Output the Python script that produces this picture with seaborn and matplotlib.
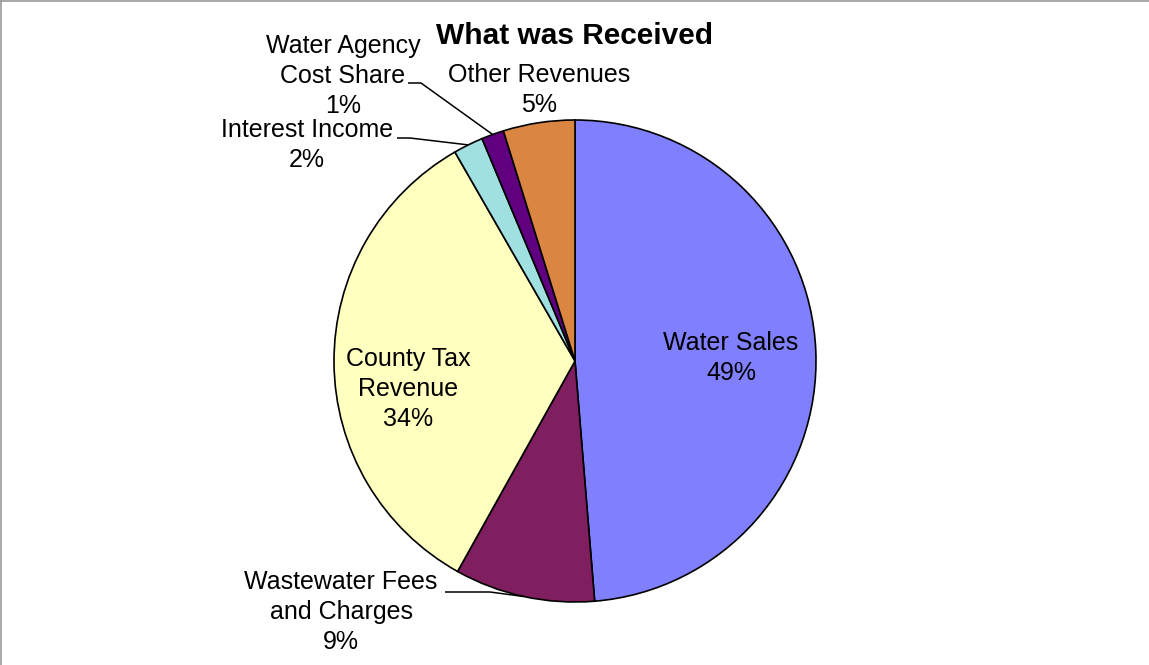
import numpy as np
import matplotlib.pyplot as plt
import seaborn as sns

sns.set_theme(style="white")
plt.rcParams['font.family'] = ['Liberation Sans', 'DejaVu Sans']
plt.rcParams['text.color'] = 'black'

# valores (fatias em sentido horario a partir do topo)
categorias = ["Water Sales", "Wastewater Fees\nand Charges", "County Tax\nRevenue",
              "Interest Income", "Water Agency\nCost Share", "Other Revenues"]
valores = [48.7, 9.4, 33.6, 2.0, 1.5, 4.8]
rotulos_pct = ["49%", "9%", "34%", "2%", "1%", "5%"]
cores = ["#8080FF", "#7F1F5F", "#FFFFC0", "#A0E0E0", "#600080", "#DA8642"]

W, H = 1149, 665
CX, CY, R = 575, 361, 241


def py(y):
    # converte y em pixels (topo=0) para coordenada do eixo
    return H - y


fig = plt.figure(figsize=(W / 100, H / 100), dpi=100)
ax = fig.add_axes([0, 0, 1, 1])

wedges, _ = ax.pie(valores, colors=cores, startangle=90, counterclock=False,
                   center=(CX, py(CY)), radius=R,
                   wedgeprops=dict(edgecolor="black", linewidth=1.2))
ax.set_xlim(0, W)
ax.set_ylim(0, H)
ax.set_aspect("equal")
ax.axis("off")

fs = 18
txt = dict(ha="center", va="center", fontsize=fs, linespacing=1.32, color="black")

# rotulos internos
ax.text(731, py(358), f"{categorias[0]}\n{rotulos_pct[0]}", **txt)
ax.text(408, py(389), f"{categorias[2]}\n{rotulos_pct[2]}", **txt)
# rotulos externos
ax.text(341, py(612), f"{categorias[1]}\n{rotulos_pct[1]}", **txt)
ax.text(307, py(145), f"{categorias[3]}\n{rotulos_pct[3]}", **txt)
ax.text(343, py(76), f"{categorias[4]}\n{rotulos_pct[4]}", **txt)
ax.text(539, py(90), f"{categorias[5]}\n{rotulos_pct[5]}", **txt)


def ponto_borda(w):
    ang = np.deg2rad((w.theta1 + w.theta2) / 2)
    return CX + R * np.cos(ang), py(CY) + R * np.sin(ang)


# linhas de chamada
def chamada(w, x0, y0, x1):
    bx, by = ponto_borda(w)
    ax.plot([x0, x1, bx], [py(y0), py(y0), by], color="black", lw=1.1,
            solid_capstyle="butt")


chamada(wedges[4], 408, 83, 421)
chamada(wedges[3], 397, 138, 410)
chamada(wedges[1], 445, 592, 490)

ax.text(575, py(36), "What was Received", ha="center", va="center",
        fontsize=21.5, fontweight="bold", color="black")

# moldura cinza (topo e esquerda)
fig.add_artist(plt.Line2D([0, 1], [0.999, 0.999], color="#999999", lw=1.2,
                          transform=fig.transFigure))
fig.add_artist(plt.Line2D([0.0005, 0.0005], [0, 1], color="#999999", lw=1.2,
                          transform=fig.transFigure))

fig.savefig("out.png", dpi=100)
